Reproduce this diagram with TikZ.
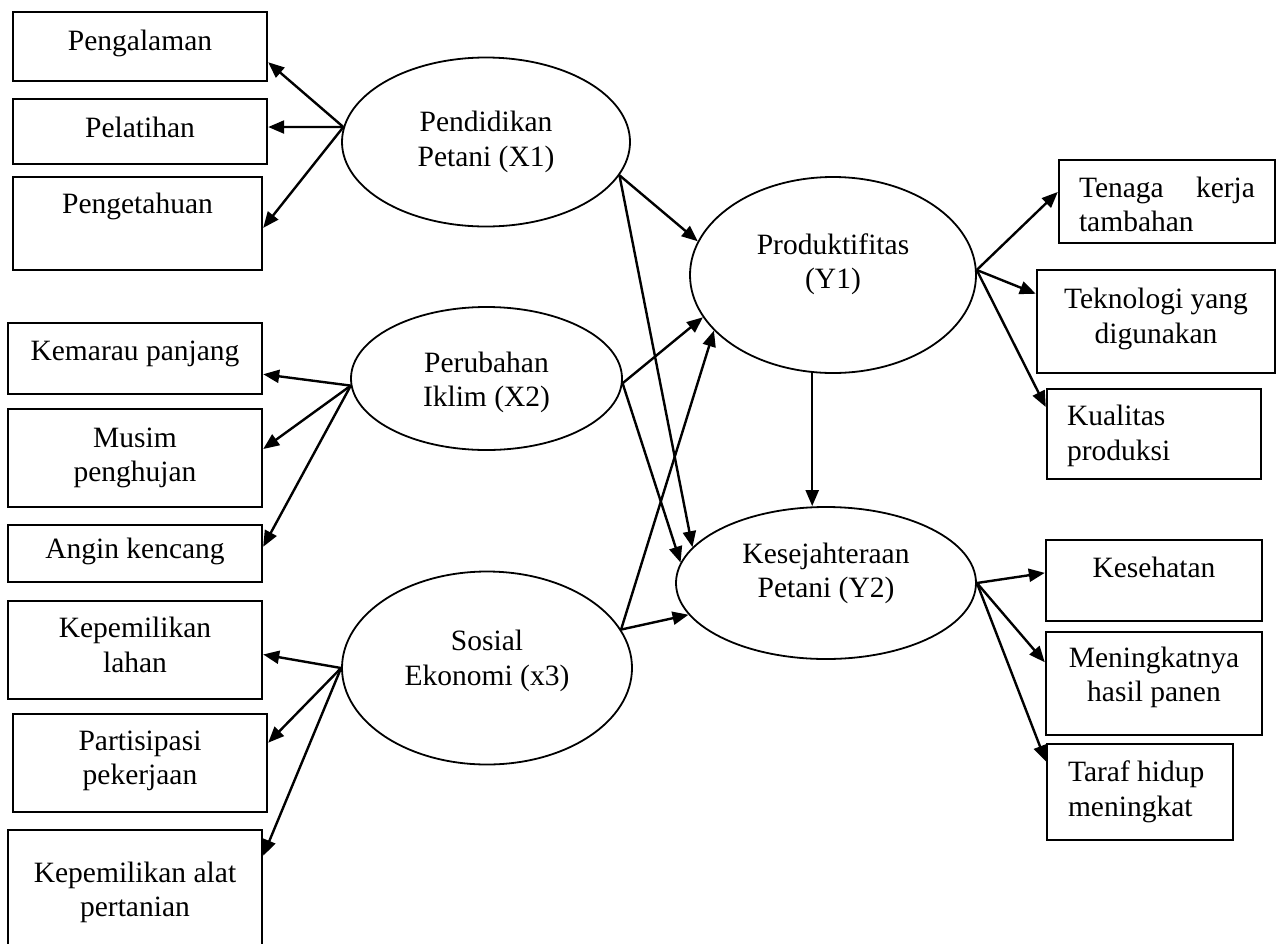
\documentclass[tikz,border=0pt]{standalone}
\usepackage{fontspec}
\setmainfont{Liberation Serif}
\usetikzlibrary{arrows.meta,shapes.geometric}

\begin{document}
\begin{tikzpicture}[x=1pt,y=-1pt,
  every label/.style={font=\fontsize{29.5}{34.5}\selectfont, align=center, inner sep=0pt},
  box/.style={draw, rectangle, line width=2.4pt, inner sep=0pt},
  latent/.style={draw, ellipse, line width=1.8pt, inner sep=0pt},
  arr/.style={line width=2.4pt, -{Triangle[length=16pt,width=13pt]}}
]
\useasboundingbox (0,0) rectangle (1277,943);
\clip (0,0) rectangle (1277,943);

% latent variables
\node[latent, minimum width=288, minimum height=169,
  label={center:Pendidikan\\Petani (X1)}] (X1) at (486,142) {};
\node[latent, minimum width=271, minimum height=143,
  label={[yshift=-4pt]center:Perubahan\\Iklim (X2)}] (X2) at (486.5,378.5) {};
\node[latent, minimum width=290, minimum height=193,
  label={[yshift=7pt]center:Sosial\\Ekonomi (x3)}] (X3) at (487,668) {};
\node[latent, minimum width=286, minimum height=196,
  label={[yshift=11pt]center:Produktifitas\\(Y1)}] (Y1) at (833,275) {};
\node[latent, minimum width=300, minimum height=152,
  label={[yshift=9.5pt]center:Kesejahteraan\\Petani (Y2)}] (Y2) at (826,583) {};

% indicators of X1
\node[box, minimum width=254, minimum height=69,
  label={[yshift=3pt]center:Pengalaman}] (peng) at (140,46.5) {};
\node[box, minimum width=254, minimum height=65,
  label={[yshift=4pt]center:Pelatihan}] (pel) at (140,131.5) {};
\node[box, minimum width=249, minimum height=93,
  label={[yshift=17pt]center:Pengetahuan}] (pget) at (137.5,223.5) {};

% indicators of X2
\node[box, minimum width=254, minimum height=71,
  label={[yshift=4.5pt]center:Kemarau panjang}] (kem) at (135,358.5) {};
\node[box, minimum width=254, minimum height=98,
  label={center:Musim\\penghujan}] (mus) at (135,458) {};
\node[box, minimum width=254, minimum height=57,
  label={[yshift=2pt]center:Angin kencang}] (ang) at (135,553.5) {};

% indicators of X3
\node[box, minimum width=254, minimum height=98,
  label={[yshift=5pt]center:Kepemilikan\\lahan}] (kl) at (135,650) {};
\node[box, minimum width=254, minimum height=98,
  label={[yshift=2pt]center:Partisipasi\\pekerjaan}] (part) at (140,763) {};
\node[box, minimum width=254, minimum height=125,
  label={center:Kepemilikan alat\\pertanian}] (kal) at (135,892.5) {};

% indicators of Y1
\node[box, minimum width=216, minimum height=83,
  label={[yshift=-3pt]center:\parbox{176pt}{Tenaga\hfill kerja\\tambahan}}] (ten) at (1167,201.5) {};
\node[box, minimum width=238, minimum height=103,
  label={[yshift=2.5pt]center:Teknologi yang\\digunakan}] (tek) at (1156,321.5) {};
\node[box, minimum width=214, minimum height=90,
  label={[yshift=-2pt]center:\parbox{174pt}{\raggedright Kualitas\\produksi}}] (kua) at (1154,434) {};

% indicators of Y2
\node[box, minimum width=216, minimum height=81,
  label={[yshift=13.5pt]center:Kesehatan}] (kes) at (1154,580.5) {};
\node[box, minimum width=216, minimum height=103,
  label={[yshift=6pt]center:Meningkatnya\\hasil panen}] (men) at (1154,683.5) {};
\node[box, minimum width=186, minimum height=96,
  label={center:\parbox{144pt}{\raggedright Taraf hidup\\meningkat}}] (taf) at (1140,792) {};

% reflective indicators
\draw[arr] (X1.174) -- (peng.-7);
\draw[arr] (X1.174) -- (pel.2);
\draw[arr] (X1.174) -- (pget.-2);
\draw[arr] (X2.183) -- (kem.-7);
\draw[arr] (X2.183) -- (mus.4);
\draw[arr] (X2.183) -- (ang.3);
\draw[arr] (X3.180) -- (kl.-2);
\draw[arr] (X3.180) -- (part.9);
\draw[arr] (X3.180) -- (kal.16);
\draw[arr] (Y1.2) -- (ten.175);
\draw[arr] (Y1.2) -- (tek.167);
\draw[arr] (Y1.2) -- (kua.166);
\draw[arr] (Y2.0) -- (kes.176);
\draw[arr] (Y2.0) -- (men.169);
\draw[arr] (Y2.0) -- (taf.162);

% structural paths
\draw[arr] (X1.346) -- (Y1.166);
\draw[arr] (X1.346) -- (Y2.165);
\draw[arr] (X2.358) -- (Y1.198);
\draw[arr] (X2.358) -- (Y2.172);
\draw[arr] (X3.16) -- (Y1.205);
\draw[arr] (X3.16) -- (Y2.193);
\draw[arr] (Y1.258) -- (Y1.258 |- Y2.north);
\end{tikzpicture}
\end{document}
